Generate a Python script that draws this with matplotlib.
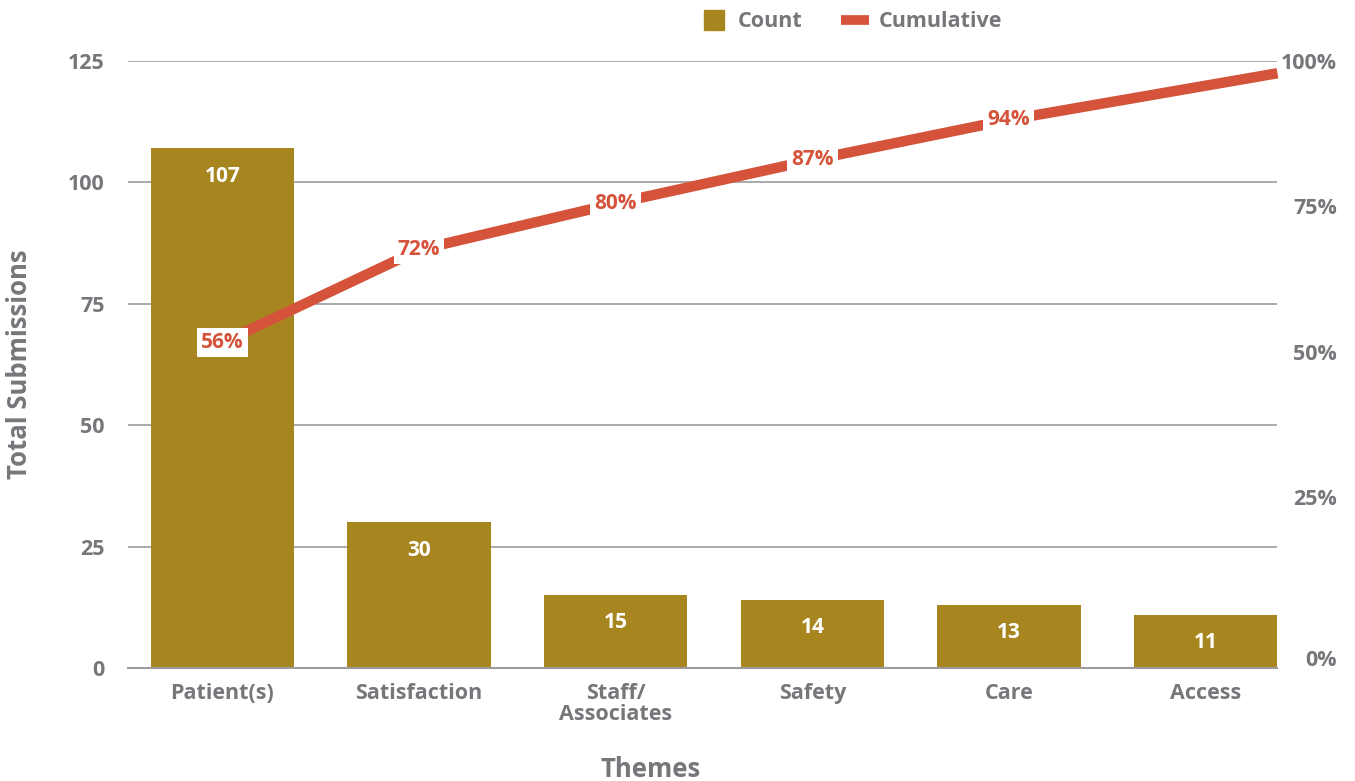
import numpy as np
import matplotlib.pyplot as plt
import matplotlib.transforms as mtransforms
from matplotlib.lines import Line2D

plt.rcParams['font.family'] = ['Open Sans', 'DejaVu Sans']
plt.rcParams['font.weight'] = 'bold'

# Data
themes = ['Patient(s)', 'Satisfaction', 'Staff/\nAssociates', 'Safety', 'Care', 'Access']
counts = [107, 30, 15, 14, 13, 11]

cum = np.cumsum(counts) / np.sum(counts)
cum_labels = [f'{round(v * 100):.0f}%' for v in cum]

gold = '#A8861F'
red = '#D4533A'
grey = '#76767B'
grid_grey = '#9C9C9C'

fig = plt.figure(figsize=(13.55, 7.81), dpi=100)
ax = fig.add_axes([0.0945, 0.1447, 0.8483, 0.7772])

x = np.arange(len(themes))
xmin, xmax = -0.48, 5.366

# Bars
ax.bar(x, counts, width=0.73, color=gold, zorder=2)
for xi, c in zip(x, counts):
    ax.annotate(str(c), (xi, c), xytext=(0, -20), textcoords='offset points',
                ha='center', va='center', color='white', fontsize=15,
                fontweight='bold', zorder=3)

ax.set_xlim(xmin, xmax)
ax.set_ylim(0, 125)
ax.set_yticks([0, 25, 50, 75, 100, 125])
ax.yaxis.grid(True, color=grid_grey, linewidth=1.2, zorder=0)
ax.set_axisbelow(True)
for s in ['top', 'right', 'left']:
    ax.spines[s].set_visible(False)
ax.spines['bottom'].set_color(grid_grey)
ax.spines['bottom'].set_linewidth(1.5)
ax.tick_params(axis='both', length=0, colors=grey, labelsize=15.5)
ax.tick_params(axis='y', pad=17)
ax.tick_params(axis='x', pad=11)
ax.set_xticks(x)
ax.set_xticklabels(themes, linespacing=1.0)
for lbl in ax.get_xticklabels() + ax.get_yticklabels():
    lbl.set_fontweight('bold')

ax.set_ylabel('Total Submissions', fontsize=18.5, color=grey, fontweight='bold')
ax.yaxis.set_label_coords(-0.083, 0.5)
ax.set_xlabel('Themes', fontsize=18.5, color=grey, fontweight='bold')
ax.xaxis.set_label_coords(0.455, -0.145)

# Cumulative line, extended to the right edge of the plot
ax2 = ax.twinx()
ax2.set_ylim(0.01, 1.042)
ax2.set_axis_off()
slope = cum[-1] - cum[-2]
line_x = np.append(x, xmax)
line_y = np.append(cum, cum[-1] + slope * (xmax - x[-1]))
ax2.plot(line_x, line_y, color=red, linewidth=7.5, solid_capstyle='butt',
         clip_on=False, zorder=3)
for xi, v, t in zip(x[:-1], cum[:-1], cum_labels[:-1]):
    ax2.text(xi, v, t, ha='center', va='center', color=red, fontsize=15,
             fontweight='bold', zorder=4,
             bbox=dict(facecolor='white', edgecolor='none', pad=3))

# Percentage scale on the right
ax3 = ax.twinx()
ax3.set_ylim(-0.043, 1.0)
ax3.set_yticks([0, 0.25, 0.5, 0.75, 1.0])
ax3.set_yticklabels(['0%', '25%', '50%', '75%', '100%'])
for s in ax3.spines.values():
    s.set_visible(False)
ax3.tick_params(axis='y', length=0, colors=grey, labelsize=15.5, pad=43)
for lbl in ax3.get_yticklabels():
    lbl.set_horizontalalignment('right')
    lbl.set_fontweight('bold')
zero_lbl = ax3.yaxis.get_major_ticks()[0].label2
zero_lbl.set_transform(zero_lbl.get_transform()
                       + mtransforms.ScaledTranslation(0, -0.15, fig.dpi_scale_trans))

# Legend
handles = [
    Line2D([], [], marker='s', linestyle='none', markersize=14.5, color=gold),
    Line2D([], [], color=red, linewidth=7, solid_capstyle='butt'),
]
fig.legend(handles, ['Count', 'Cumulative'], loc='center',
           bbox_to_anchor=(0.628, 0.972), ncol=2, frameon=False,
           labelcolor=grey, handlelength=1.3,
           handletextpad=0.45, columnspacing=1.8, prop={'weight': 'bold', 'size': 15.5})

plt.savefig('out.png', dpi=100)
plt.close()
